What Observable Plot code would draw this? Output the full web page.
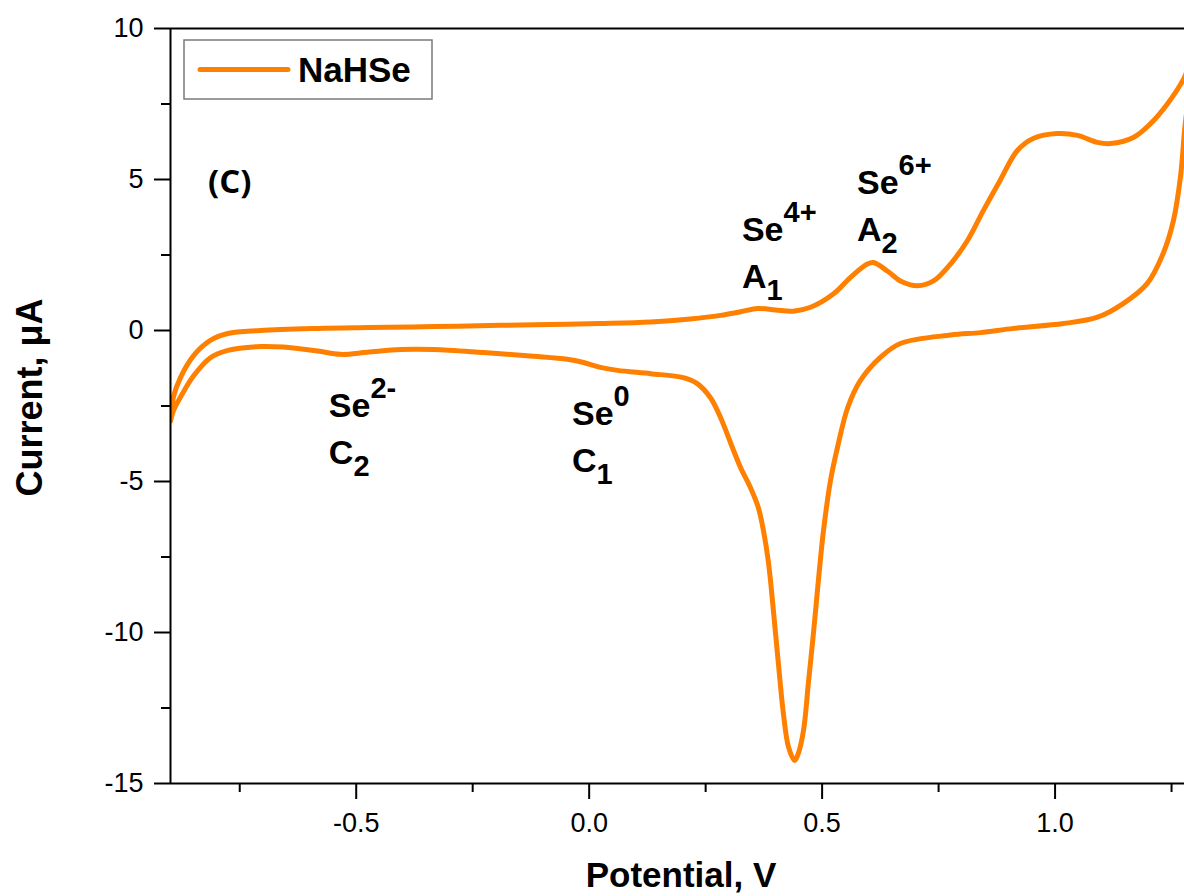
<!DOCTYPE html>
<html><head><meta charset="utf-8">
<script src="https://cdn.jsdelivr.net/npm/d3@7"></script>
<script src="https://cdn.jsdelivr.net/npm/@observablehq/plot@0.6"></script>
<style>body{margin:0;background:#fff}#chart svg{display:block}</style>
</head><body><div id="chart"></div>
<script>
// ---- data ----
const forwardV = [-0.8986, -0.8923, -0.877, -0.849, -0.813, -0.7757, -0.7055, -0.583, -0.476, -0.334, -0.190, -0.083, 0.024, 0.132, 0.217, 0.282, 0.325, 0.362, 0.400, 0.438, 0.475, 0.524, 0.561, 0.597, 0.610, 0.640, 0.668, 0.705, 0.739, 0.776, 0.812, 0.846, 0.882, 0.919, 0.953, 1.005, 1.048, 1.091, 1.119, 1.168, 1.205, 1.241, 1.276, 1.292];
const forwardI = [-3.0, -2.2, -1.55, -0.83, -0.33, -0.1, 0.0, 0.07, 0.10, 0.13, 0.17, 0.20, 0.23, 0.28, 0.38, 0.50, 0.62, 0.73, 0.68, 0.64, 0.77, 1.21, 1.76, 2.2, 2.25, 1.97, 1.64, 1.48, 1.64, 2.21, 2.98, 3.97, 4.97, 5.96, 6.36, 6.52, 6.46, 6.23, 6.19, 6.39, 6.85, 7.5, 8.33, 8.9];
const reverseV = [1.2778, 1.269, 1.254, 1.232, 1.198, 1.147, 1.091, 1.018, 0.911, 0.840, 0.776, 0.668, 0.625, 0.582, 0.555, 0.533, 0.518, 0.503, 0.492, 0.482, 0.471, 0.460, 0.449, 0.441, 0.428, 0.417, 0.406, 0.396, 0.385, 0.374, 0.363, 0.346, 0.325, 0.304, 0.282, 0.260, 0.232, 0.202, 0.132, 0.061, 0.024, -0.012, -0.047, -0.120, -0.227, -0.334, -0.405, -0.476, -0.534, -0.583, -0.656, -0.7055, -0.7757, -0.813, -0.849, -0.877, -0.8923, -0.8986];
const reverseI = [6.6, 5.07, 3.64, 2.55, 1.56, 0.9, 0.44, 0.23, 0.07, -0.07, -0.15, -0.43, -0.89, -1.66, -2.55, -3.87, -4.97, -6.62, -8.28, -9.93, -11.6, -13.25, -14.0, -14.24, -13.8, -12.7, -11.0, -9.37, -7.7, -6.62, -5.86, -5.2, -4.54, -3.74, -2.88, -2.22, -1.76, -1.56, -1.43, -1.32, -1.22, -1.06, -0.95, -0.85, -0.73, -0.63, -0.63, -0.72, -0.79, -0.68, -0.55, -0.53, -0.66, -0.9, -1.5, -2.2, -2.65, -3.0];

const xDomain = [-0.8986, 1.2778];
const yDomain = [-15, 10];
const xMajorTicks = [-0.5, 0.0, 0.5, 1.0];
const xMinorTicks = [-0.75, -0.25, 0.25, 0.75, 1.25];
const yMajorTicks = [10, 5, 0, -5, -10, -15];
const yMinorTicks = [7.5, 2.5, -2.5, -7.5, -12.5];

const seriesName = "NaHSe";
const panelLabel = "(C)";
const xTitle = "Potential, V";
const yTitle = "Current, \u03BCA";

const peakBase = ["Se", "Se", "Se", "Se"];
const peakSup = ["2-", "0", "4+", "6+"];
const peakLetter = ["C", "C", "A", "A"];
const peakIndex = ["2", "1", "1", "2"];
const peakV = [-0.5576, -0.0358, 0.329, 0.576];
const peakI = [-2.88, -3.15, 2.95, 4.50];

// ---- build table ----
const loop = [
  ...forwardV.map((v, i) => ({V: v, I: forwardI[i]})),
  ...reverseV.map((v, i) => ({V: v, I: reverseI[i]}))
];

const ORANGE = "#ff8000";
const FONT = "'Liberation Sans', Arial, Helvetica, sans-serif";

const chart = Plot.plot({
  width: 1184, height: 896,
  marginLeft: 170, marginRight: 0, marginTop: 28, marginBottom: 113,
  style: {fontFamily: FONT, fontSize: "27px", color: "#000", background: "#fff"},
  x: {domain: xDomain},
  y: {domain: yDomain},
  marks: [
    Plot.axisX(xMajorTicks, {tickSize: 16, tickPadding: 13, tickFormat: d => d.toFixed(1), label: null, strokeWidth: 2, fontSize: 27}),
    Plot.axisX(xMinorTicks, {tickSize: 9, tickFormat: () => "", label: null, strokeWidth: 2}),
    Plot.axisY(yMajorTicks, {tickSize: 16, tickPadding: 11, tickFormat: d => String(d), label: null, strokeWidth: 2, fontSize: 27}),
    Plot.axisY(yMinorTicks, {tickSize: 9, tickFormat: () => "", label: null, strokeWidth: 2}),
    Plot.line(loop, {x: "V", y: "I", stroke: ORANGE, strokeWidth: 5, curve: "catmull-rom", clip: true, strokeLinejoin: "round"}),
    Plot.ruleX([xDomain[0]], {strokeWidth: 2}),
    Plot.ruleY(yDomain, {strokeWidth: 2})
  ]
});

document.getElementById("chart").appendChild(chart);

// ---- annotations & legend via the chart's scales ----
const sx = chart.scale("x"), sy = chart.scale("y");
const svg = d3.select(chart);
const g = svg.append("g").attr("font-family", FONT).attr("font-weight", "bold")
  .attr("fill", "#000").attr("text-anchor", "start");

peakBase.forEach((b, i) => {
  const X = sx.apply(peakV[i]), Y = sy.apply(peakI[i]);
  const t1 = g.append("text").attr("x", X).attr("y", Y).attr("font-size", 34).text(b);
  t1.append("tspan").attr("dy", -19).attr("font-size", 29).text(peakSup[i]);
  const t2 = g.append("text").attr("x", X).attr("y", Y + 47).attr("font-size", 34).text(peakLetter[i]);
  t2.append("tspan").attr("dy", 12).attr("font-size", 29).text(peakIndex[i]);
});

// panel label
const frameLeft = sx.apply(xDomain[0]), frameTop = sy.apply(yDomain[1]), frameBottom = sy.apply(yDomain[0]);
g.append("text").attr("x", frameLeft + 38).attr("y", frameTop + 165)
  .attr("font-family", "'Open Sans', sans-serif").attr("font-size", 33).text(panelLabel);

// legend
const lg = svg.append("g").attr("text-anchor", "start");
lg.append("rect").attr("x", frameLeft + 14).attr("y", frameTop + 12).attr("width", 248).attr("height", 59)
  .attr("fill", "#fff").attr("stroke", "#7a7a7a").attr("stroke-width", 1.5);
lg.append("line").attr("x1", frameLeft + 30).attr("x2", frameLeft + 118).attr("y1", frameTop + 41.5).attr("y2", frameTop + 41.5)
  .attr("stroke", ORANGE).attr("stroke-width", 5).attr("stroke-linecap", "round");
lg.append("text").attr("x", frameLeft + 128).attr("y", frameTop + 54).attr("font-family", FONT)
  .attr("font-weight", "bold").attr("font-size", 35).text(seriesName);

// axis titles
g.append("text").attr("x", 681).attr("y", 887).attr("text-anchor", "middle")
  .attr("font-size", 35).text(xTitle);
g.append("text").attr("transform", `translate(42,${(frameTop + frameBottom) / 2 - 8}) rotate(-90)`)
  .attr("text-anchor", "middle").attr("font-size", 36).text(yTitle);
</script>
</body></html>
